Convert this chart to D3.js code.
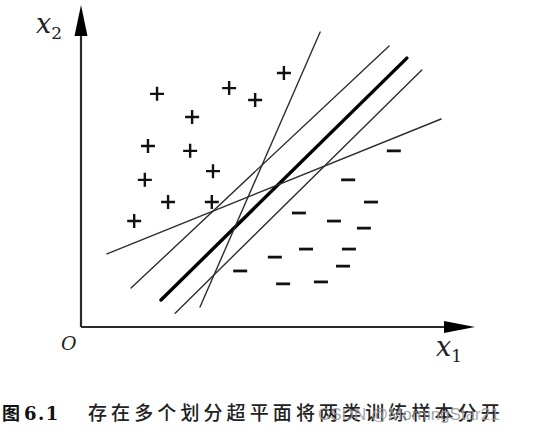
<!DOCTYPE html>
<html><head><meta charset="utf-8">
<script src="https://cdn.jsdelivr.net/npm/d3@7"></script>
<style>html,body{margin:0;padding:0;background:#fff;}svg{display:block;}</style>
</head><body>
<script>
// Positive samples (x1, x2)
const plusX = [1.93, 3.76, 4.42, 5.15, 2.82, 1.70, 2.77, 1.62, 3.35, 2.21, 3.32, 1.35];
const plusY = [7.24, 7.42, 7.05, 7.89, 6.52, 5.62, 5.47, 4.57, 4.84, 3.88, 3.88, 3.29];
// Negative samples
const minusX = [7.94, 6.78, 7.36, 5.53, 6.42, 7.18, 5.71, 6.80, 4.92, 6.65, 4.04, 5.13, 6.09];
const minusY = [5.47, 4.57, 3.88, 3.54, 3.29, 3.07, 2.42, 2.42, 2.17, 1.89, 1.74, 1.34, 1.40];
// Hyperplanes: start/end points
const lineX1 = [2.03, 3.02, 1.27, 2.39, 0.66];
const lineY1 = [0.84, 0.62, 1.21, 0.43, 2.27];
const lineX2 = [8.27, 6.07, 7.82, 8.65, 9.14];
const lineY2 = [8.35, 9.16, 8.73, 7.98, 6.46];
const lineBold = [true, false, false, false, false];
const xLabel = "x", xSub = "1", yLabel = "x", ySub = "2", originLabel = "O";
const captionFig = "图", captionNum = "6.1";
const captionText = "存在多个划分超平面将两类训练样本分开";
const watermark = "CSDN @MorningStar21";

const W = 537, H = 438;
const svg = d3.select("body").append("svg").attr("width", W).attr("height", H);
const x = d3.scaleLinear().domain([0, 10]).range([81, 475]);
const y = d3.scaleLinear().domain([0, 10]).range([327, 5]);

// axes
const axisColor = "#2a2a2a";
svg.append("line").attr("x1", x(0)).attr("y1", y(0)).attr("x2", 447).attr("y2", y(0))
  .attr("stroke", axisColor).attr("stroke-width", 2.2);
svg.append("line").attr("x1", x(0)).attr("y1", y(0)).attr("x2", x(0)).attr("y2", 33)
  .attr("stroke", axisColor).attr("stroke-width", 2.2);
svg.append("path").attr("d", `M${x(10)},${y(0)} L444,${y(0)-6} L444,${y(0)+6} Z`).attr("fill", "#000");
svg.append("path").attr("d", `M${x(0)},${y(10)} L${x(0)-6.5},36 L${x(0)+6.5},36 Z`).attr("fill", "#000");

// lines
const lines = lineX1.map((d, i) => ({x1: d, y1: lineY1[i], x2: lineX2[i], y2: lineY2[i], bold: lineBold[i]}));
svg.append("g").selectAll("line").data(lines).join("line")
  .attr("x1", d => x(d.x1)).attr("y1", d => y(d.y1))
  .attr("x2", d => x(d.x2)).attr("y2", d => y(d.y2))
  .attr("stroke", d => d.bold ? "#000" : "#2e2e2e")
  .attr("stroke-width", d => d.bold ? 3.4 : 1.4)
  .attr("stroke-linecap", "round");

// plus markers
const plus = plusX.map((d, i) => ({x: d, y: plusY[i]}));
const s = 7;
svg.append("g").selectAll("path").data(plus).join("path")
  .attr("d", d => `M${x(d.x)-s},${y(d.y)} H${x(d.x)+s} M${x(d.x)},${y(d.y)-s} V${y(d.y)+s}`)
  .attr("stroke", "#111").attr("stroke-width", 2.4).attr("fill", "none");

// minus markers
const minus = minusX.map((d, i) => ({x: d, y: minusY[i]}));
svg.append("g").selectAll("path").data(minus).join("path")
  .attr("d", d => `M${x(d.x)-7},${y(d.y)} H${x(d.x)+7}`)
  .attr("stroke", "#111").attr("stroke-width", 2.8).attr("fill", "none");

// axis labels
const serif = "'DejaVu Serif', 'Liberation Serif', serif";
const yl = svg.append("text").attr("x", 36).attr("y", 33).attr("font-family", serif)
  .attr("font-size", 27).attr("fill", "#222");
yl.append("tspan").attr("font-style", "italic").text(yLabel);
yl.append("tspan").attr("font-size", 17).attr("dy", 6).text(ySub);
const xl = svg.append("text").attr("x", 436).attr("y", 356).attr("font-family", serif)
  .attr("font-size", 27).attr("fill", "#222");
xl.append("tspan").attr("font-style", "italic").text(xLabel);
xl.append("tspan").attr("font-size", 17).attr("dy", 6).text(xSub);
svg.append("text").attr("x", 61).attr("y", 350).attr("font-family", serif)
  .attr("font-style", "italic").attr("font-size", 19).attr("fill", "#222").text(originLabel);

// caption
svg.append("text").attr("x", 2).attr("y", 420).attr("font-family", "'Noto Sans CJK SC', sans-serif")
  .attr("font-weight", "bold").attr("font-size", 18).attr("fill", "#111").text(captionFig);
svg.append("text").attr("x", 24).attr("y", 420).attr("font-family", serif)
  .attr("font-weight", "bold").attr("font-size", 18).attr("letter-spacing", 1.5).attr("fill", "#111").text(captionNum);
svg.append("text").attr("x", 88).attr("y", 420).attr("font-family", "'Noto Sans CJK SC', sans-serif")
  .attr("font-weight", 500).attr("font-size", 19).attr("letter-spacing", 4.1).attr("fill", "#222").text(captionText);
svg.append("text").attr("x", 318).attr("y", 420).attr("font-family", "'Liberation Sans', 'DejaVu Sans', sans-serif")
  .attr("font-size", 17).attr("fill", "#9a9a9a").attr("opacity", 0.85).text(watermark);
</script>
</body></html>
